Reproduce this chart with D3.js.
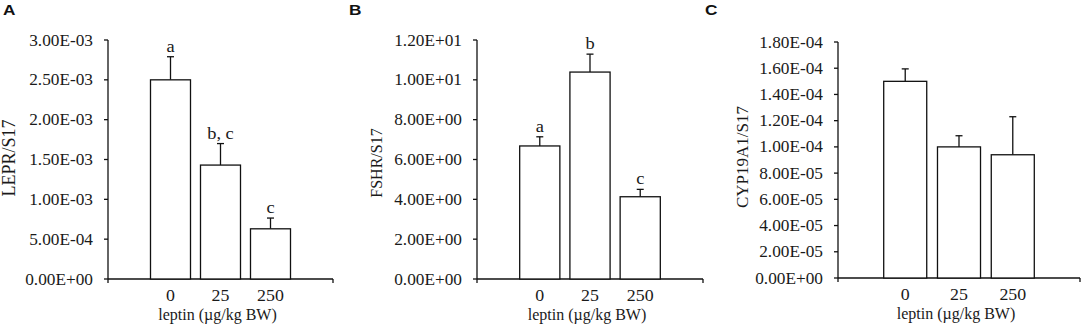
<!DOCTYPE html>
<html>
<head>
<meta charset="utf-8">
<script src="https://cdn.jsdelivr.net/npm/d3@7"></script>
<style>
  body { margin: 0; background: #fff; }
  svg { display: block; }
  .tick-lab { font-family: "Liberation Serif", "Times New Roman", serif; font-size: 16px; fill: #1a1a1a; }
  .axis-title { font-family: "Liberation Serif", "Times New Roman", serif; font-size: 16px; fill: #1a1a1a; }
  .sig { font-family: "Liberation Serif", "Times New Roman", serif; font-size: 16px; fill: #1a1a1a; }
  .panel-lab { font-family: "Liberation Sans", Arial, sans-serif; font-size: 15px; font-weight: bold; fill: #111; }
</style>
</head>
<body>
<svg></svg>
<script>
const width = 1084;
const height = 329;

const doses = ["0", "25", "250"];

// LEPR/S17
const leprMean = [2.50e-3, 1.43e-3, 0.63e-3];
const leprErr = [0.29e-3, 0.27e-3, 0.135e-3];
const leprSig = ["a", "b, c", "c"];
const leprTicks = [0, 5e-4, 1e-3, 1.5e-3, 2e-3, 2.5e-3, 3e-3];

// FSHR/S17
const fshrMean = [6.68, 10.39, 4.13];
const fshrErr = [0.46, 0.90, 0.37];
const fshrSig = ["a", "b", "c"];
const fshrTicks = [0, 2, 4, 6, 8, 10, 12];

// CYP19A1/S17
const cypMean = [1.50e-4, 1.00e-4, 0.94e-4];
const cypErr = [0.095e-4, 0.085e-4, 0.29e-4];
const cypSig = ["", "", ""];
const cypTicks = [0, 2e-5, 4e-5, 6e-5, 8e-5, 1e-4, 1.2e-4, 1.4e-4, 1.6e-4, 1.8e-4];

const panels = [
  {letter: "A", lx: 3, title: "LEPR/S17", tsize: 18, tx: 9, ty: 158, mean: leprMean, err: leprErr, sig: leprSig, ticks: leprTicks,
   x0: 108, x1: 333, top: 40, bottom: 279},
  {letter: "B", lx: 349, title: "FSHR/S17", tsize: 16, tx: 377, ty: 163, mean: fshrMean, err: fshrErr, sig: fshrSig, ticks: fshrTicks,
   x0: 477, x1: 703, top: 40, bottom: 279},
  {letter: "C", lx: 705, title: "CYP19A1/S17", tsize: 17, tx: 742, ty: 157, mean: cypMean, err: cypErr, sig: cypSig, ticks: cypTicks,
   x0: 838, x1: 1080, top: 42, bottom: 278}
];

// excel style 0.00E+00
function excelExp(v) {
  if (v === 0) return "0.00E+00";
  let parts = v.toExponential(2).split("e");
  let ex = +parts[1];
  let sign = ex < 0 ? "-" : "+";
  return parts[0] + "E" + sign + String(Math.abs(ex)).padStart(2, "0");
}

var svg = d3.select("svg").attr("width", width).attr("height", height);

panels.forEach(p => {
  var g = svg.append("g");

  var x = d3.scaleBand().domain(doses).range([p.x0, p.x1])
    .paddingInner(0.2).paddingOuter(0.85);
  var y = d3.scaleLinear().domain([0, d3.max(p.ticks)]).range([p.bottom, p.top]);

  // y axis
  g.append("line")
    .attr("x1", p.x0).attr("x2", p.x0)
    .attr("y1", p.top).attr("y2", p.bottom + 4)
    .attr("stroke", "#111").attr("stroke-width", 1.3);

  g.selectAll(".ytick").data(p.ticks).enter().append("line")
    .attr("x1", p.x0 - 4).attr("x2", p.x0)
    .attr("y1", d => y(d)).attr("y2", d => y(d))
    .attr("stroke", "#111").attr("stroke-width", 1.3);

  g.selectAll(".ylab").data(p.ticks).enter().append("text")
    .attr("class", "tick-lab")
    .attr("text-anchor", "end")
    .attr("transform", d => `translate(${p.x0 - 15},${y(d) + 5.5}) scale(1.08,1)`)
    .text(d => excelExp(d));

  // x axis
  g.append("line")
    .attr("x1", p.x0).attr("x2", p.x1)
    .attr("y1", p.bottom).attr("y2", p.bottom)
    .attr("stroke", "#111").attr("stroke-width", 1.3);
  g.append("line")
    .attr("x1", p.x1).attr("x2", p.x1)
    .attr("y1", p.bottom).attr("y2", p.bottom + 4)
    .attr("stroke", "#111").attr("stroke-width", 1.3);

  g.selectAll(".xlab").data(doses).enter().append("text")
    .attr("class", "tick-lab")
    .attr("text-anchor", "middle")
    .attr("transform", d => `translate(${x(d) + x.bandwidth() / 2},${p.bottom + 22}) scale(1.05,1)`)
    .style("font-size", "17px")
    .text(d => d);

  g.append("text")
    .attr("class", "axis-title")
    .attr("text-anchor", "middle")
    .attr("x", (p.x0 + p.x1) / 2 - 3)
    .attr("y", p.bottom + 41)
    .text("leptin (µg/kg BW)");

  g.append("text")
    .attr("class", "axis-title")
    .attr("text-anchor", "middle")
    .style("font-size", p.tsize + "px")
    .attr("transform", `translate(${p.tx + p.tsize * 0.33},${p.ty}) rotate(-90)`)
    .text(p.title);

  // error bars (upper only)
  var bars = p.mean.map((m, i) => ({dose: doses[i], mean: m, err: p.err[i], sig: p.sig[i]}));

  g.selectAll(".ebar").data(bars).enter().append("line")
    .attr("x1", d => x(d.dose) + x.bandwidth() / 2)
    .attr("x2", d => x(d.dose) + x.bandwidth() / 2)
    .attr("y1", d => y(d.mean))
    .attr("y2", d => y(d.mean + d.err))
    .attr("stroke", "#111").attr("stroke-width", 1.3);
  g.selectAll(".ecap").data(bars).enter().append("line")
    .attr("x1", d => x(d.dose) + x.bandwidth() / 2 - 3.5)
    .attr("x2", d => x(d.dose) + x.bandwidth() / 2 + 3.5)
    .attr("y1", d => y(d.mean + d.err))
    .attr("y2", d => y(d.mean + d.err))
    .attr("stroke", "#111").attr("stroke-width", 1.3);

  g.selectAll("rect").data(bars).enter().append("rect")
    .attr("x", d => x(d.dose))
    .attr("y", d => y(d.mean))
    .attr("width", x.bandwidth())
    .attr("height", d => y(0) - y(d.mean))
    .attr("fill", "#fff")
    .attr("stroke", "#111").attr("stroke-width", 1.3);

  g.selectAll(".sig").data(bars).enter().append("text")
    .attr("class", "sig")
    .attr("text-anchor", "middle")
    .attr("transform", d => `translate(${x(d.dose) + x.bandwidth() / 2},${y(d.mean + d.err) - 5}) scale(1.15,1)`)
    .text(d => d.sig);

  svg.append("text")
    .attr("class", "panel-lab")
    .attr("transform", `translate(${p.lx},15) scale(1.15,1)`)
    .text(p.letter);
});
</script>
</body>
</html>
